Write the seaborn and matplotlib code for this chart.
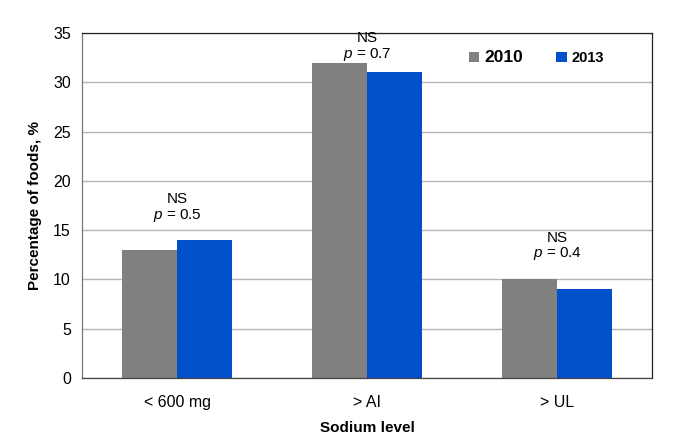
import matplotlib.pyplot as plt
import pandas as pd
import seaborn as sns
from matplotlib.patches import Patch

# Data
categories = ['< 600 mg', '> AI', '> UL']
years = ['2010', '2013']
pct_2010 = [13, 32, 10]
pct_2013 = [14, 31, 9]
sig_labels = ['NS', 'NS', 'NS']
p_values = ['0.5', '0.7', '0.4']
label_offset = [2.5, 0.8, 2.6]  # centre of the p-value line above the taller bar

colors = {'2010': '#808080', '2013': '#0050cc'}

df = pd.DataFrame({
    'Sodium level': categories * 2,
    'Year': ['2010'] * 3 + ['2013'] * 3,
    'Percentage': pct_2010 + pct_2013,
})

sns.set_style('white')
plt.rcParams['font.family'] = ['Liberation Sans', 'DejaVu Sans']
plt.rcParams['text.color'] = 'black'
plt.rcParams['axes.labelcolor'] = 'black'
plt.rcParams['xtick.color'] = 'black'
plt.rcParams['ytick.color'] = 'black'
plt.rcParams['mathtext.fontset'] = 'custom'
plt.rcParams['mathtext.it'] = 'Liberation Sans:italic'
plt.rcParams['mathtext.rm'] = 'Liberation Sans'

fig = plt.figure(figsize=(6.8, 4.48), dpi=100)
ax = fig.add_axes([0.1206, 0.1563, 0.8382, 0.77])

sns.barplot(data=df, x='Sodium level', y='Percentage', hue='Year',
            palette=colors, width=0.58, saturation=1, linewidth=0,
            ax=ax, legend=False)

ax.set_ylim(0, 35)
ax.set_xlim(-0.5, 2.5)
ax.set_yticks(range(0, 36, 5))
ax.yaxis.grid(True, color='#b4b4b4', linewidth=1)
ax.set_axisbelow(True)

ax.tick_params(axis='y', length=0, labelsize=11.5, pad=8)
ax.tick_params(axis='x', which='major', length=0, labelsize=11.5, pad=12)
ax.set_xticks([0.5, 1.5], minor=True)
ax.tick_params(axis='x', which='minor', direction='in', length=4, color='#333333')

for side in ['top', 'right', 'bottom', 'left']:
    ax.spines[side].set_visible(True)
    ax.spines[side].set_linewidth(0.9)
ax.spines['top'].set_color('#222222')
ax.spines['right'].set_color('#222222')
ax.spines['bottom'].set_color('#444444')
ax.spines['left'].set_color('#777777')

ax.set_ylabel('Percentage of foods, %', fontsize=11, fontweight='bold', labelpad=8)
ax.set_xlabel('Sodium level', fontsize=11, fontweight='bold', labelpad=8)

# Significance labels above each group
for i in range(len(categories)):
    mid = max(pct_2010[i], pct_2013[i]) + label_offset[i]
    ax.text(i, mid, '$p$ = ' + p_values[i], ha='center', va='center', fontsize=11)
    ax.text(i, mid + 1.65, sig_labels[i], ha='center', va='center', fontsize=11)

handles = [Patch(facecolor=colors[y], edgecolor='none') for y in years]
leg = ax.legend(handles, years, ncol=2, frameon=False, loc='upper right',
                bbox_to_anchor=(0.94, 0.99), handlelength=0.7, handleheight=0.7,
                handletextpad=0.3, columnspacing=2.2,
                prop={'weight': 'bold', 'size': 11})
leg.get_texts()[0].set_fontsize(12.5)
leg.get_texts()[1].set_fontsize(10.5)

fig.savefig('out.png', dpi=100)
